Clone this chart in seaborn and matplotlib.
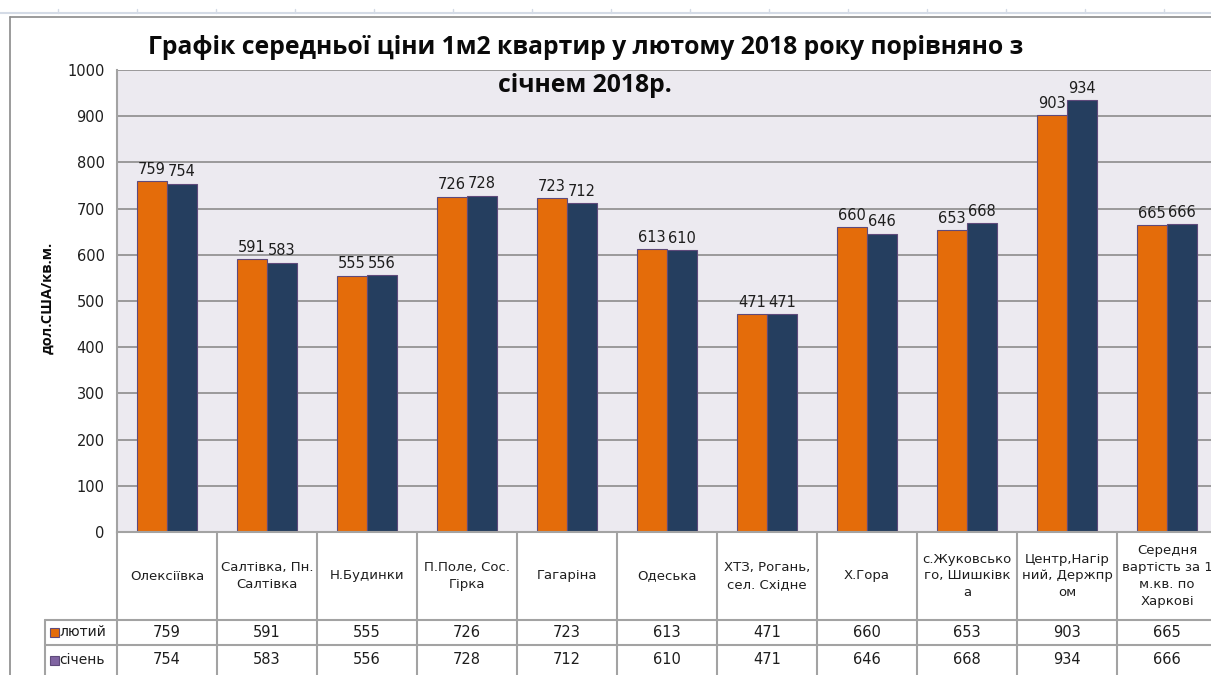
import numpy as np
import pandas as pd
import seaborn as sns
import matplotlib.pyplot as plt
from matplotlib.lines import Line2D
from matplotlib.patches import Rectangle

# data
districts = ["Олексіївка", "Салтівка, Пн.\nСалтівка", "Н.Будинки", "П.Поле, Сос.\nГірка",
             "Гагаріна", "Одеська", "ХТЗ, Рогань,\nсел. Східне", "Х.Гора",
             "с.Жуковсько\nго, Шишківк\nа", "Центр,Нагір\nний, Держпр\nом",
             "Середня\nвартість за 1\nм.кв. по\nХаркові"]
months = ["лютий", "січень"]
feb = [759, 591, 555, 726, 723, 613, 471, 660, 653, 903, 665]
jan = [754, 583, 556, 728, 712, 610, 471, 646, 668, 934, 666]

df = pd.DataFrame({
    "district": districts * 2,
    "month": [months[0]] * len(districts) + [months[1]] * len(districts),
    "price": feb + jan,
})

orange = "#E46C0A"
navy = "#253E5F"
purple = "#8064A2"
edge = "#5F4A7B"
grid_c = "#8C8C8C"
line_c = "#A3A3A3"
txt_c = "#1E1E1E"

sns.set_style("white")
plt.rcParams['font.family'] = ['DejaVu Sans']

W, H = 1211, 675
fig = plt.figure(figsize=(W / 100, H / 100), dpi=100)

# plot area in pixel terms
x0, x1 = 117, 1211
y_top, y_bot = 70, 532
ncat = len(districts)
xmax = -0.5 + (x1 - x0) / 100

ax = fig.add_axes([x0 / W, (H - y_bot) / H, (x1 - x0) / W, (y_bot - y_top) / H])
ax.set_facecolor("#ECEAF0")
sns.barplot(data=df, x="district", y="price", hue="month", palette=[orange, navy],
            saturation=1, width=0.6, edgecolor=edge, linewidth=0.8, legend=False, ax=ax)
ax.set_xlim(-0.5, xmax)
ax.set_ylim(0, 1000)
ax.set_yticks(range(0, 1001, 100))
ax.set_yticklabels([str(v) for v in range(0, 1001, 100)], fontsize=10.5, color=txt_c)
ax.tick_params(axis="y", length=0, pad=9)
ax.set_xticks([])
ax.set_xlabel("")
ax.set_ylabel("")
ax.yaxis.grid(True, color=grid_c, linewidth=1.2)
ax.set_axisbelow(True)
for s in ["top", "right"]:
    ax.spines[s].set_visible(False)
ax.spines["left"].set_color(line_c)
ax.spines["left"].set_linewidth(1.5)
ax.spines["bottom"].set_color(line_c)
ax.spines["bottom"].set_linewidth(1.5)

for cont in ax.containers:
    ax.bar_label(cont, padding=3, fontsize=10.5, color=txt_c)

# data table under the chart
tab_h = H - y_bot
tax = fig.add_axes([x0 / W, 0, (x1 - x0) / W, tab_h / H])
tax.set_xlim(-0.5, xmax)
tax.set_ylim(tab_h, 0)
tax.axis("off")
leg_x = (45 - x0) / 100 - 0.5
r1, r2 = 620 - y_bot, 645 - y_bot

for i in range(ncat + 1):
    tax.plot([i - 0.5, i - 0.5], [0, tab_h], color=line_c, lw=1.5, clip_on=False)
tax.plot([leg_x, leg_x], [r1, tab_h], color=line_c, lw=1.5, clip_on=False)
for yy in [r1, r2]:
    tax.plot([leg_x, xmax], [yy, yy], color=line_c, lw=1.5, clip_on=False)

for i, name in enumerate(districts):
    tax.text(i, r1 / 2, name, ha="center", va="center", fontsize=9.5,
             color=txt_c, linespacing=1.4)
    tax.text(i, (r1 + r2) / 2, str(feb[i]), ha="center", va="center", fontsize=10.5,
             color=txt_c)
    tax.text(i, (r2 + tab_h) / 2, str(jan[i]), ha="center", va="center", fontsize=10.5,
             color=txt_c)

for yy, col, lab in [((r1 + r2) / 2, orange, months[0]), ((r2 + tab_h) / 2, purple, months[1])]:
    tax.add_patch(Rectangle((leg_x + 0.05, yy - 4.5), 0.09, 9, facecolor=col,
                            edgecolor=edge, lw=0.8, clip_on=False))
    tax.text(leg_x + 0.14, yy, lab, ha="left", va="center", fontsize=10, color=txt_c,
             clip_on=False)

# titles and axis label
fig.text(586 / W, 1 - 48 / H, "Графік середньої ціни 1м2 квартир у лютому 2018 року порівняно з",
         ha="center", va="center", fontsize=17.8, fontweight="bold", family="Open Sans",
         color="#0A0A0A")
fig.text(585 / W, 1 - 86 / H, "січнем 2018р.",
         ha="center", va="center", fontsize=17.8, fontweight="bold", family="Open Sans",
         color="#0A0A0A")
fig.text(47 / W, 1 - 298 / H, "дол.США/кв.м.", rotation=90, ha="center", va="center",
         fontsize=10.5, fontweight="bold", family="Open Sans", color="#0A0A0A")

# chart frame and sheet grid at the top
fig.add_artist(Line2D([10 / W, 10 / W], [0, 1 - 17 / H], color="#8A8A8A", lw=1.2))
fig.add_artist(Line2D([10 / W, 1], [1 - 17 / H, 1 - 17 / H], color="#8A8A8A", lw=1.2))
fig.add_artist(Line2D([0, 1], [1 - 13 / H, 1 - 13 / H], color="#D4DBE6", lw=1.5))
for gx in range(58, W, 79):
    fig.add_artist(Line2D([gx / W, gx / W], [1 - 13 / H, 1 - 9 / H], color="#D4DBE6", lw=1))

fig.savefig("out.png", dpi=100)
